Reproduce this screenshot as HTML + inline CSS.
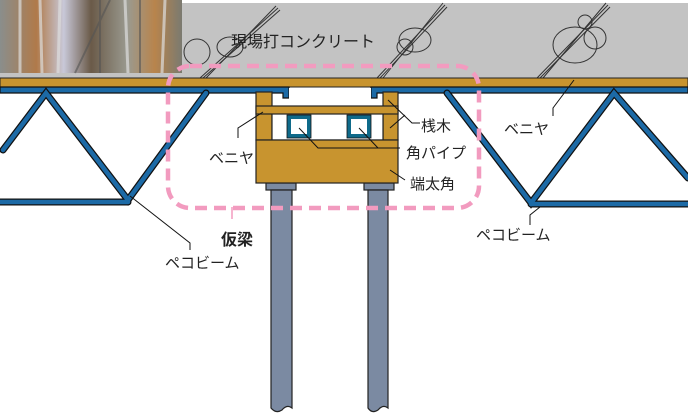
<!DOCTYPE html>
<html><head><meta charset="utf-8"><style>
html,body{margin:0;padding:0;background:#fff;}
svg{display:block;}
text{font-family:"Liberation Sans","Noto Sans CJK JP",sans-serif;font-size:15px;fill:#222;}
</style></head><body>
<svg width="688" height="416" viewBox="0 0 688 416" xmlns="http://www.w3.org/2000/svg">
<defs>
<linearGradient id="ph" x1="0" x2="1">
<stop offset="0" stop-color="#8a8e8c"/><stop offset="0.2" stop-color="#b07a4a"/><stop offset="0.35" stop-color="#c8c8d8"/><stop offset="0.5" stop-color="#6a5a48"/><stop offset="0.7" stop-color="#9a9a90"/><stop offset="0.85" stop-color="#b8844c"/><stop offset="1" stop-color="#7a7a70"/>
</linearGradient>
</defs>
<rect x="0" y="3" width="688" height="76" fill="#c3c3c3"/>
<rect x="0" y="0" width="182" height="73" fill="url(#ph)"/>
<g stroke="#ddd" stroke-width="3" opacity="0.7">
<line x1="20" y1="0" x2="20" y2="73"/><line x1="40" y1="0" x2="42" y2="73"/><line x1="60" y1="0" x2="58" y2="73"/><line x1="125" y1="0" x2="128" y2="73"/><line x1="165" y1="0" x2="162" y2="73"/>
</g>
<g stroke="#555" stroke-width="2" opacity="0.6"><line x1="75" y1="73" x2="110" y2="0"/><line x1="100" y1="0" x2="100" y2="73"/><line x1="140" y1="0" x2="140" y2="73"/></g>
<g fill="none" stroke="#333" stroke-width="1">
<line x1="200" y1="78" x2="278" y2="8"/><line x1="203" y1="78" x2="280" y2="10"/><line x1="206" y1="78" x2="276" y2="6"/>
<circle cx="197" cy="52" r="13"/><ellipse cx="230" cy="47" rx="13" ry="10"/>
<line x1="377" y1="78" x2="445" y2="5"/><line x1="380" y1="78" x2="447" y2="7"/><line x1="383" y1="78" x2="443" y2="3"/>
<ellipse cx="415" cy="40" rx="16" ry="12"/><circle cx="405" cy="47" r="8"/>
<line x1="537" y1="78" x2="608" y2="5"/><line x1="540" y1="78" x2="610" y2="7"/><line x1="543" y1="78" x2="606" y2="3"/>
<ellipse cx="575" cy="45" rx="22" ry="18"/><circle cx="595" cy="38" r="11"/><circle cx="585" cy="22" r="7"/>
</g>
<text x="231" y="47" style="font-size:16px">現場打コンクリート</text>
<rect x="0" y="78" width="688" height="9" fill="#c8942f" stroke="#222" stroke-width="1"/>
<path d="M0 87 H289 V98 H283 V93 H0 Z" fill="#1c6aa6" stroke="#111" stroke-width="1.2"/>
<path d="M688 87 H371 V98 H377 V93 H688 Z" fill="#1c6aa6" stroke="#111" stroke-width="1.2"/>
<rect x="289" y="88" width="82" height="19" fill="#fff"/>
<g stroke="#111" stroke-width="7" stroke-linecap="round" fill="none"><path d="M3 150 L46 93 L128 200 L206 93"/><line x1="0" y1="202" x2="128" y2="202"/>
<path d="M447 93 L531 203 L614 93 L688 178"/><line x1="531" y1="204" x2="688" y2="204"/></g>
<g stroke="#1c6aa6" stroke-width="4.5" stroke-linecap="round" fill="none"><path d="M3 150 L46 93 L128 200 L206 93"/><line x1="0" y1="202" x2="128" y2="202"/>
<path d="M447 93 L531 203 L614 93 L688 178"/><line x1="531" y1="204" x2="688" y2="204"/></g>
<g stroke="#222" stroke-width="1.2">
<rect x="266" y="183" width="30" height="7" fill="#7b8aa2"/><rect x="364" y="183" width="30" height="7" fill="#7b8aa2"/>
<path d="M271 190 H292 V408 Q287 404 282 410 Q276 414 271 408 Z" fill="#7b8aa2"/>
<path d="M368 190 H388 V408 Q383 404 378 410 Q372 414 368 408 Z" fill="#7b8aa2"/>
</g>
<g stroke="#222" stroke-width="1.2" fill="#c8942f">
<rect x="256" y="92" width="16" height="48"/>
<rect x="383" y="92" width="15" height="48"/>
<rect x="272" y="113" width="111" height="27" fill="#fff"/>
<rect x="256" y="106" width="142" height="8"/>
<rect x="256" y="140" width="142" height="43"/>
</g>
<g fill="#fff" stroke="#0f6a8a" stroke-width="4"><rect x="289" y="117" width="20" height="19"/><rect x="349" y="117" width="20" height="19"/></g>
<g fill="none" stroke="#111" stroke-width="0.8"><rect x="287" y="115" width="24" height="23"/><rect x="347" y="115" width="24" height="23"/></g>
<rect x="168" y="66" width="311" height="142" rx="22" fill="none" stroke="#f29bbf" stroke-width="4.5" stroke-dasharray="12 7"/>
<g fill="none" stroke="#111" stroke-width="1">
<path d="M263 112 L238 128 V138"/>
<path d="M299 128 L318 148 H400"/><path d="M359 128 L378 148"/>
<path d="M388 100 L412 123 H420"/><path d="M390 128 L405 115"/>
<path d="M390 170 L405 180"/>
<path d="M574 80 L553 108 V116"/>
<path d="M130 196 L190 243 V250"/>
<path d="M540 207 L530 215 V225"/>
</g>
<path d="M232 207 L232 219" stroke="#f29bbf" stroke-width="1.5"/>
<text x="209" y="163">ベニヤ</text>
<text x="421" y="131">桟木</text>
<text x="406" y="158">角パイプ</text>
<text x="410" y="189">端太角</text>
<text x="504" y="134">ベニヤ</text>
<text x="221" y="245" style="font-weight:bold;font-size:16px">仮梁</text>
<text x="165" y="268">ペコビーム</text>
<text x="476" y="240">ペコビーム</text>
</svg>
</body></html>
